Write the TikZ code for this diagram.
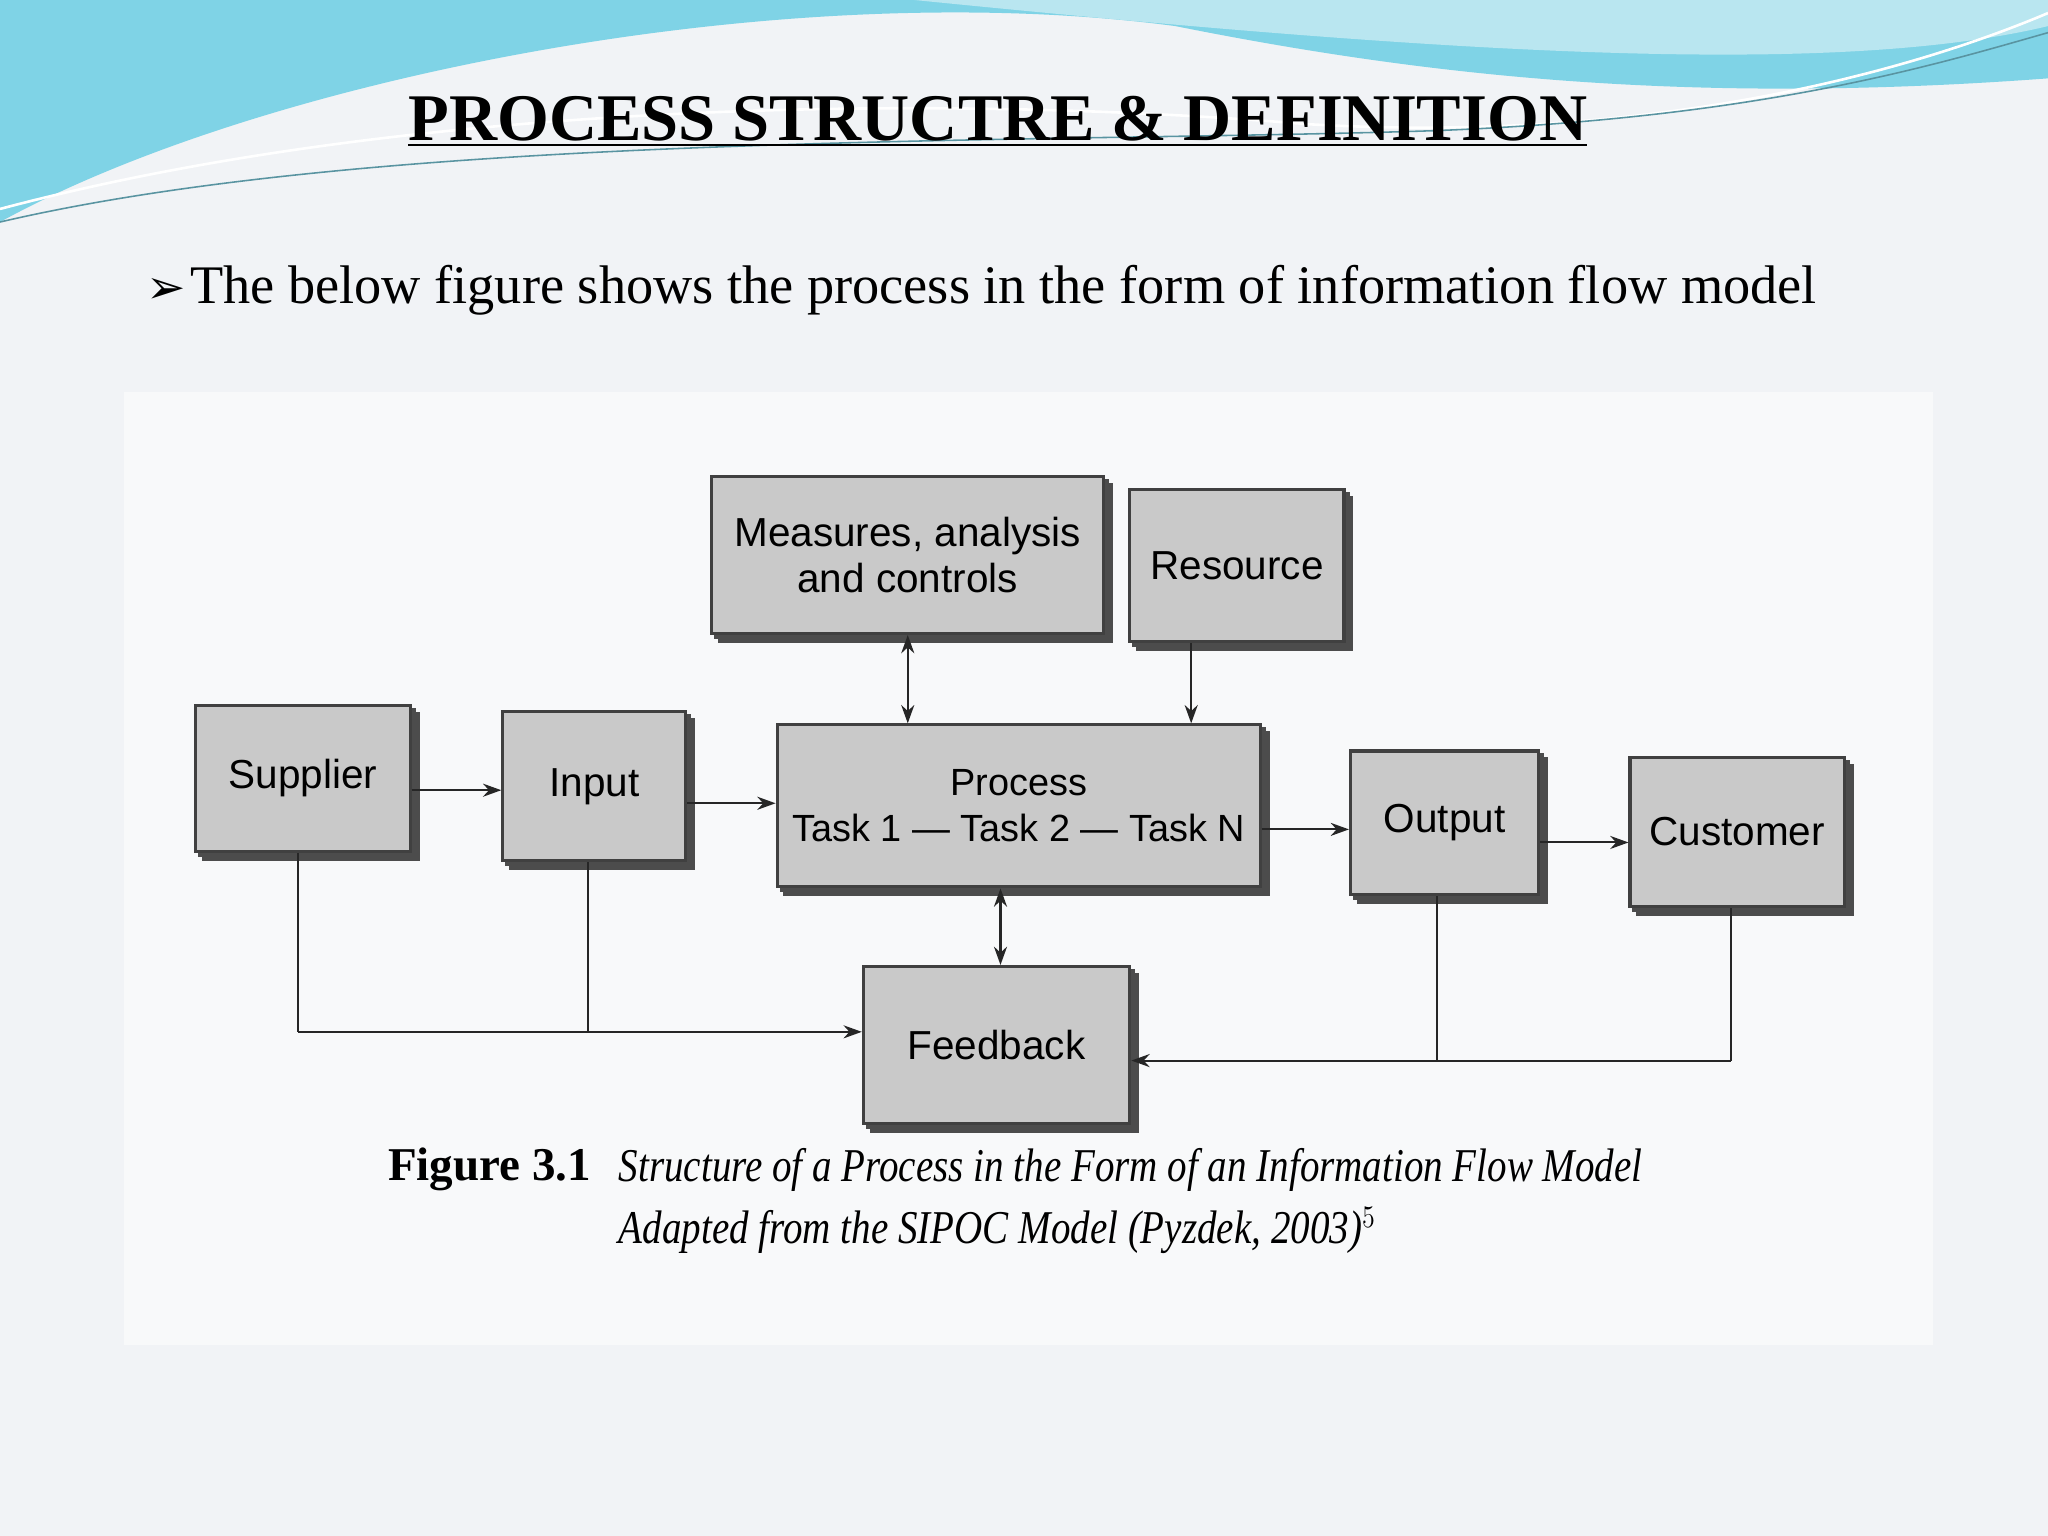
\documentclass[tikz,border=0pt]{standalone}
\usepackage{fontspec}
\setmainfont{Liberation Serif}
\newfontfamily\boxfont{Liberation Sans}
\newfontfamily\symfont{DejaVu Sans}
\usetikzlibrary{arrows.meta,shadows}
\definecolor{bg}{HTML}{F1F3F6}
\definecolor{wave1}{HTML}{7FD3E6}
\definecolor{wave2}{HTML}{B9E6F0}
\definecolor{boxgray}{HTML}{C9C9C9}
\tikzset{
  blk/.style={draw=black!75,line width=1.2pt,fill=boxgray,font=\boxfont\fontsize{15.5}{17.5}\selectfont,align=center,inner sep=0pt,
    double copy shadow={shadow xshift=1.5pt,shadow yshift=-1.5pt,fill=black!70,draw=black!70}},
  conn/.style={line width=0.8pt,draw=black!85},
  arr/.style={conn,-{Stealth[length=7pt,width=5pt]}},
  darr/.style={conn,{Stealth[length=7pt,width=5pt]}-{Stealth[length=7pt,width=5pt]}}
}
\begin{document}
\begin{tikzpicture}[x=0.5pt,y=-0.5pt]
\useasboundingbox (0,0) rectangle (1568,1176);
\fill[bg] (0,0) rectangle (1568,1176);
% top wave
\fill[wave1] (0,0) -- (1568,0) -- (1568,60) .. controls (1300,80) and (1100,60) .. (900,20) .. controls (600,-20) and (200,60) .. (0,170) -- cycle;
\fill[wave2] (700,0) -- (1568,0) -- (1568,20) .. controls (1400,60) and (1100,40) .. (700,0) -- cycle;
\draw[white,line width=1pt] (0,160) .. controls (300,80) and (700,70) .. (1000,95) .. controls (1250,110) and (1450,60) .. (1568,10);
\draw[wave1!70!black,line width=0.6pt] (0,170) .. controls (300,100) and (800,110) .. (1100,100) .. controls (1350,90) and (1480,50) .. (1568,25);
% scanned page
\fill[white,opacity=0.5] (95,300) rectangle (1480,1030);
% title
\node (title) at (764,93) {\fontsize{25.5}{30}\selectfont\bfseries\underline{PROCESS STRUCTRE \& DEFINITION}};
\node[anchor=west] (bullet) at (105,222) {{\symfont\fontsize{18}{20}\selectfont ➢}\,\fontsize{20.8}{24}\selectfont The below figure shows the process in the form of information flow model};
% boxes
\node[blk,minimum width=150,minimum height=60] (meas) at (695,425) {Measures, analysis\\and controls};
\node[blk,minimum width=82,minimum height=58] (res) at (947,433) {Resource};
\node[blk,minimum width=82,minimum height=56] (sup) at (232,596) {Supplier};
\node[blk,minimum width=70,minimum height=57] (inp) at (455,602) {Input};
\node[blk,minimum width=185,minimum height=62,font=\boxfont\fontsize{14.5}{17.5}\selectfont] (proc) at (780,617) {Process\\Task 1 — Task 2 — Task N};
\node[blk,minimum width=72,minimum height=55] (out) at (1106,630) {Output};
\node[blk,minimum width=82,minimum height=57] (cust) at (1330,637) {Customer};
\node[blk,minimum width=102,minimum height=60] (fb) at (763,800) {Feedback};
% connectors
\draw[arr] (sup.east |- 0,605) -- (inp.west |- 0,605);
\draw[arr] (inp.east |- 0,615) -- (proc.west |- 0,615);
\draw[arr] (proc.east |- 0,635) -- (out.west |- 0,635);
\draw[arr] (out.east |- 0,645) -- (cust.west |- 0,645);
\draw[darr] (meas.south -| 695,0) -- (proc.north -| 695,0);
\draw[arr] (res.south -| 912,0) -- (proc.north -| 912,0);
\draw[darr] (proc.south -| 766,0) -- (fb.north -| 766,0);
\coordinate (sc) at (228,790);
\coordinate (ic) at (450,790);
\coordinate (cc) at (1325,812);
\coordinate (oc) at (1100,812);
\draw[conn] (sup.south -| sc) -- (sc);
\draw[conn] (inp.south -| ic) -- (ic);
\draw[arr] (sc) -- (fb.west |- sc);
\draw[conn] (cust.south -| cc) -- (cc);
\draw[conn] (out.south -| oc) -- (oc);
\draw[arr] (cc) -- (fb.east |- cc);
% caption
\node[anchor=north west,font=\fontsize{18}{20}\selectfont\bfseries] (figl) at (290,872) {Figure 3.1};
\node[anchor=north west,align=left,font=\fontsize{18}{24}\selectfont\itshape,xscale=0.83] (cap) at (468,872) {Structure of a Process in the Form of an Information Flow Model\\Adapted from the SIPOC Model (Pyzdek, 2003)$^{5}$};
\end{tikzpicture}
\end{document}
